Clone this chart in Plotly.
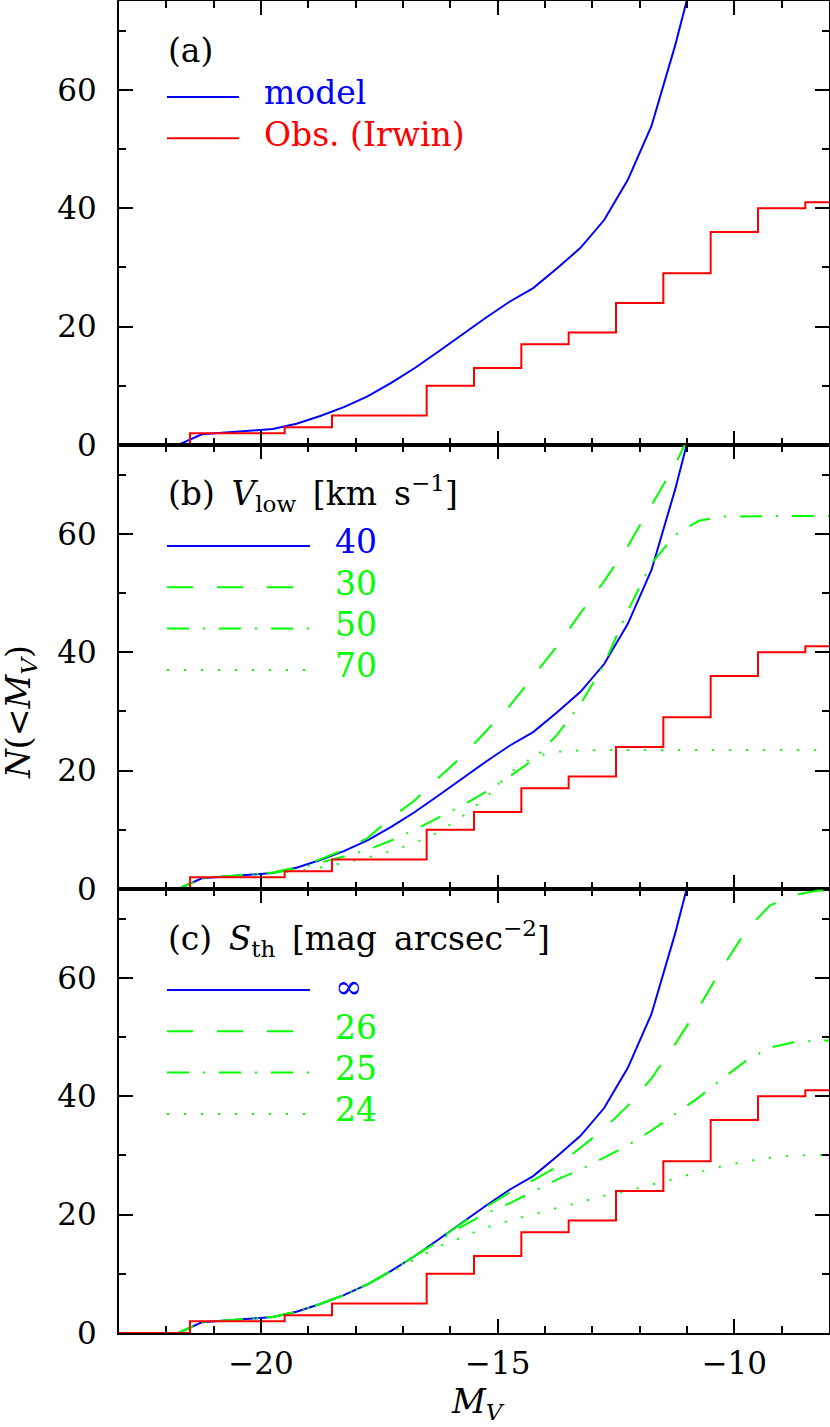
import plotly.graph_objects as go

# magnitude grid on which the model curves are tabulated
MAG = [-23.0, -21.75, -21.25, -20.75, -20.25, -19.75, -19.25, -18.75, -18.25, -17.75,
       -17.25, -16.75, -16.25, -15.75, -15.25, -14.75, -14.25, -13.75, -13.25, -12.75,
       -12.25, -11.75, -11.25, -10.75, -10.25, -9.75, -9.25, -8.75, -8.25, -8.0]

# fiducial model (panel a "model", panel b "40", panel c "inf")
N_model = [0, 0, 1.8, 2.1, 2.4, 2.7, 3.6, 4.9, 6.4, 8.2,
           10.5, 13.0, 15.8, 18.7, 21.5, 24.2, 26.5, 29.8, 33.3, 38.0,
           44.8, 53.9, 67.5, 83.0, None, None, None, None, None, None]

# panel b : V_low = 30, 50, 70 km/s
N_vlow30 = [0, 0, 1.8, 2.1, 2.4, 2.8, 3.7, 5.0, 6.6, 8.6,
            12.0, 15.0, 18.8, 22.4, 26.6, 30.9, 35.9, 41.0, 46.6, 52.0,
            57.9, 64.7, 71.7, 80.0, None, None, None, None, None, None]
N_vlow50 = [0, 0, 1.8, 2.1, 2.3, 2.7, 3.4, 4.4, 5.5, 6.6,
            8.2, 10.0, 12.0, 14.1, 16.4, 19.0, 21.8, 26.0, 31.2, 38.0,
            47.0, 55.0, 59.8, 62.2, 62.9, 63.0, 63.0, 63.0, 63.0, 63.0]
N_vlow70 = [0, 0, 1.8, 2.1, 2.3, 2.6, 3.0, 3.6, 4.4, 5.3,
            6.4, 7.8, 9.6, 12.2, 15.4, 19.6, 22.3, 23.2, 23.4, 23.5,
            23.5, 23.5, 23.5, 23.5, 23.5, 23.5, 23.5, 23.5, 23.5, 23.5]

# panel c : S_th = 26, 25, 24 mag/arcsec^2
N_sth26 = [0, 0, 1.8, 2.1, 2.4, 2.7, 3.6, 4.9, 6.4, 8.2,
           10.5, 13.0, 15.8, 18.6, 21.3, 23.7, 25.8, 28.1, 31.3, 34.5,
           38.4, 43.0, 48.8, 55.0, 61.8, 68.0, 72.2, 74.0, 74.7, 74.8]
N_sth25 = [0, 0, 1.8, 2.1, 2.4, 2.7, 3.6, 4.9, 6.4, 8.2,
           10.5, 13.0, 15.6, 18.0, 20.2, 21.9, 23.9, 25.9, 27.6, 29.6,
           31.7, 34.2, 37.0, 39.8, 43.0, 46.0, 48.2, 49.1, 49.4, 49.4]
N_sth24 = [0, 0, 1.8, 2.1, 2.4, 2.7, 3.6, 4.9, 6.4, 8.2,
           10.3, 12.5, 14.6, 16.2, 17.8, 19.0, 20.1, 21.1, 22.1, 23.2,
           24.0, 25.0, 26.1, 27.2, 28.2, 29.0, 29.6, 30.0, 30.1, 30.1]

# observed cumulative counts (Irwin), step edges
MAG_obs = [-23.0, -21.5, -19.5, -18.5, -16.5, -15.5, -14.5, -13.5, -12.5, -11.5, -10.5, -9.5, -8.5, -8.0]
N_obs = [0, 2, 3, 5, 10, 13, 17, 19, 24, 29, 36, 40, 41, 41]

BLUE = '#0000ff'
RED = '#ff0000'
GREEN = '#00ff00'
FONT = 'DejaVu Serif'
TXT = 33

DASH = {'solid': 'solid', 'dash': '26px,24px', 'dashdot': '22px,14px,2px,14px', 'dot': '2px,15px'}

panels = [
    {'label': '(a)',
     'curves': [(N_model, BLUE, 'solid', 'model')],
     'legend': [('model', BLUE, 'solid'), ('Obs. (Irwin)', RED, 'solid')],
     'short': True},
    {'label': '(b)\u2002<i>V</i><sub>low</sub>\u2002[km\u2009 s<sup>\u22121</sup>]',
     'curves': [(N_model, BLUE, 'solid', '40'), (N_vlow30, GREEN, 'dash', '30'),
                (N_vlow50, GREEN, 'dashdot', '50'), (N_vlow70, GREEN, 'dot', '70')],
     'legend': [('40', BLUE, 'solid'), ('30', GREEN, 'dash'), ('50', GREEN, 'dashdot'), ('70', GREEN, 'dot')],
     'short': False},
    {'label': '(c)\u2002<i>S</i><sub>th</sub>\u2002[mag\u2009 arcsec<sup>\u22122</sup>]',
     'curves': [(N_model, BLUE, 'solid', 'inf'), (N_sth26, GREEN, 'dash', '26'),
                (N_sth25, GREEN, 'dashdot', '25'), (N_sth24, GREEN, 'dot', '24')],
     'legend': [('\u221e', BLUE, 'solid'), ('26', GREEN, 'dash'), ('25', GREEN, 'dashdot'), ('24', GREEN, 'dot')],
     'short': False},
]

W, H = 830, 1427
ML, MR, MT, MB = 119, 1, 1, 94
plotW = W - ML - MR
plotH = H - MT - MB
panelH = plotH / 3.0

fig = go.Figure()
annotations = []
shapes = []


def fy(px):
    # px measured down from the top of a panel
    return 1 - px / panelH


def fx(px):
    return (px - ML) / plotW


for i, p in enumerate(panels):
    n = '' if i == 0 else str(i + 1)
    xa, ya = 'x' + n, 'y' + n
    for y, color, dash, name in p['curves']:
        fig.add_trace(go.Scatter(x=MAG, y=y, mode='lines', name=name, xaxis=xa, yaxis=ya,
                                 line=dict(color=color, width=2, dash=DASH[dash]),
                                 showlegend=False))
    fig.add_trace(go.Scatter(x=MAG_obs, y=N_obs, mode='lines', line_shape='hv', name='Obs. (Irwin)',
                             xaxis=xa, yaxis=ya, line=dict(color=RED, width=2), showlegend=False))

    annotations.append(dict(text=p['label'], xref=xa + ' domain', yref=ya + ' domain',
                            x=fx(166), y=fy(50 if i == 0 else 49), xanchor='left', yanchor='middle',
                            showarrow=False, font=dict(family=FONT, size=TXT, color='black')))
    x_end = 239 if p['short'] else 310
    x_txt = 262 if p['short'] else 333
    for k, (txt, color, dash) in enumerate(p['legend']):
        row = 96 + 41.3 * k if i == 0 else 101 + 41.3 * k
        shapes.append(dict(type='line', xref=xa + ' domain', yref=ya + ' domain',
                           x0=fx(167), x1=fx(x_end), y0=fy(row), y1=fy(row),
                           line=dict(color=color, width=2, dash=DASH[dash])))
        annotations.append(dict(text=txt, xref=xa + ' domain', yref=ya + ' domain',
                                x=fx(x_txt), y=fy(row - 4), xanchor='left', yanchor='middle',
                                showarrow=False, font=dict(family=FONT, size=TXT, color=color)))

    top = 1 - i / 3.0
    axis_common = dict(showline=True, linecolor='black', linewidth=2, mirror='ticks',
                       ticks='inside', ticklen=14, tickwidth=2, tickcolor='black',
                       showgrid=False, zeroline=False, automargin=False,
                       tickfont=dict(family=FONT, size=31, color='black'))
    fig.update_layout(**{
        ('xaxis' + n): dict(axis_common, range=[-23, -8], dtick=5, tick0=-20, anchor=ya,
                            showticklabels=(i == 2), ticklabelstandoff=2,
                            minor=dict(dtick=1, ticklen=7, ticks='inside', tickwidth=2, tickcolor='black'),
                            **({} if i == 0 else {'matches': 'x'})),
        ('yaxis' + n): dict(axis_common, range=[0, 75], dtick=20, tick0=0, anchor=xa,
                            domain=[top - 1 / 3.0, top], ticklabelstandoff=14,
                            minor=dict(dtick=10, ticklen=7, ticks='inside', tickwidth=2, tickcolor='black')),
    })

# axis titles
annotations.append(dict(text='<i>M</i><sub><i>V</i></sub>', xref='paper', yref='paper',
                        x=(478 - ML) / plotW, y=-(1403 - (H - MB)) / plotH, xanchor='center', yanchor='middle',
                        showarrow=False, font=dict(family=FONT, size=TXT, color='black')))
annotations.append(dict(text='<i>N</i>(&lt;<i>M</i><sub><i>V</i></sub>)', xref='paper', yref='paper',
                        x=(20 - ML) / plotW, y=((H - MB) - 712) / plotH, xanchor='center', yanchor='middle',
                        textangle=-90, showarrow=False, font=dict(family=FONT, size=TXT, color='black')))

fig.update_layout(width=W, height=H, margin=dict(l=ML, r=MR, t=MT, b=MB, autoexpand=False),
                  paper_bgcolor='white', plot_bgcolor='white',
                  annotations=annotations, shapes=shapes, showlegend=False)

# drop the browser's default body margin so the figure sits at the page origin
fig.write_html("out.html", config={'displayModeBar': False},
               post_script="document.body.style.margin='0';")
